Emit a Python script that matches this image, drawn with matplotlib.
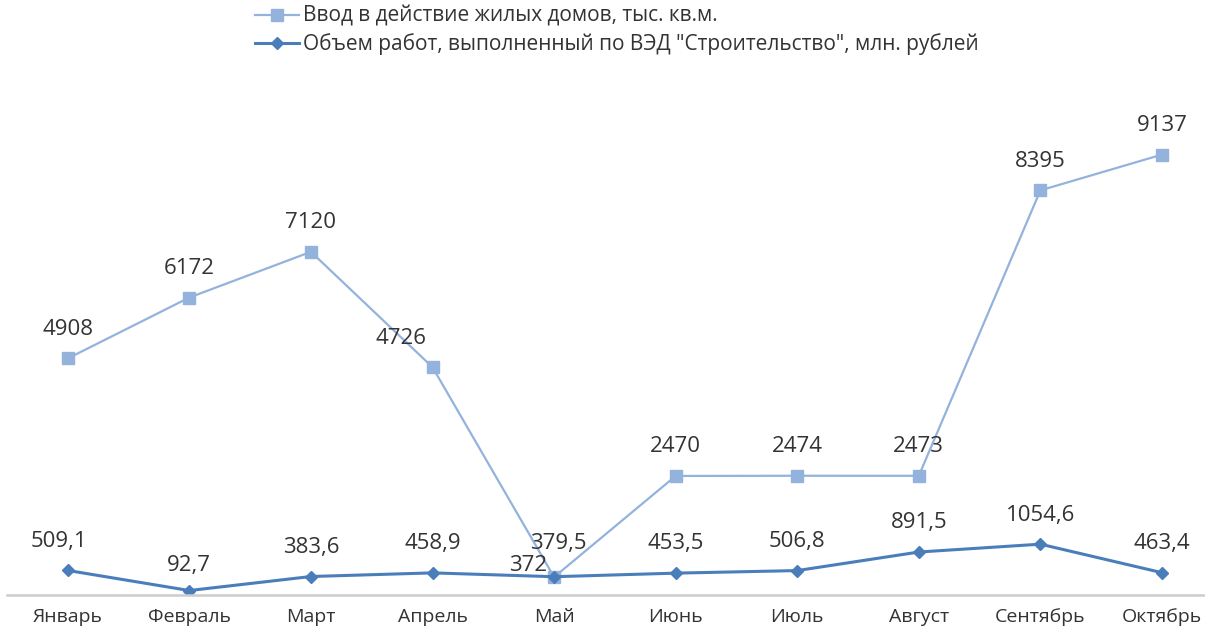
import matplotlib
matplotlib.use("Agg")
import matplotlib.pyplot as plt

plt.rcParams['font.family'] = ['Open Sans', 'DejaVu Sans']

months = ["Январь", "Февраль", "Март", "Апрель", "Май",
          "Июнь", "Июль", "Август", "Сентябрь", "Октябрь"]
housing = [4908, 6172, 7120, 4726, 372, 2470, 2474, 2473, 8395, 9137]
works = [509.1, 92.7, 383.6, 458.9, 379.5, 453.5, 506.8, 891.5, 1054.6, 463.4]

housing_label = "Ввод в действие жилых домов, тыс. кв.м."
works_label = 'Объем работ, выполненный по ВЭД "Строительство", млн. рублей'

light = "#93b3dc"
dark = "#4a7ebb"

fig = plt.figure(figsize=(12.05, 6.35), dpi=100)
ax = fig.add_axes([7 / 1205, 40 / 635, 1198 / 1205, 482 / 635])

x = list(range(len(months)))
l1, = ax.plot(x, housing, color=light, lw=1.6, marker="s", ms=8, label=housing_label)
l2, = ax.plot(x, works, color=dark, lw=2.2, marker="D", ms=6, label=works_label)

# data labels (a couple nudged, like in the original)
h_off = {3: (-23, 21), 4: (-19, 8.5)}
for i, v in enumerate(housing):
    dx, dy = h_off.get(i, (0, 21))
    ax.annotate(str(v), (i, v), xytext=(dx, dy), textcoords="offset points",
                ha="center", va="center", fontsize=16, color="#333333")

w_off = {0: (-6.5, 21), 1: (0, 18), 4: (3, 24)}
for i, v in enumerate(works):
    dx, dy = w_off.get(i, (0, 21))
    ax.annotate(f"{v:.1f}".replace(".", ","), (i, v), xytext=(dx, dy),
                textcoords="offset points", ha="center", va="center",
                fontsize=16, color="#333333")

ax.set_xlim(-0.5, 9.354)
ax.set_ylim(0, 10000)
ax.set_xticks(x)
ax.set_xticklabels(months, fontsize=14, color="#333333")
ax.tick_params(axis="x", length=0, pad=9)
ax.set_yticks([])
for s in ["top", "right", "left"]:
    ax.spines[s].set_visible(False)
ax.spines["bottom"].set_color("#cccccc")
ax.spines["bottom"].set_linewidth(1.8)

fig.legend(handles=[l1, l2], loc="upper left", bbox_to_anchor=(255 / 1205, 1 - 6 / 635),
           frameon=False, fontsize=15, handlelength=2.1, labelspacing=0.3,
           handletextpad=0.2, borderpad=0, borderaxespad=0, labelcolor="#333333")

fig.savefig("out.png", dpi=100)
